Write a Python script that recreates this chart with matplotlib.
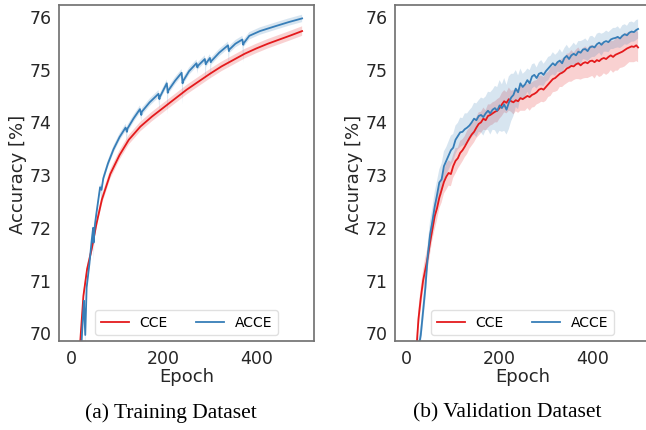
import numpy as np
import matplotlib
matplotlib.use("Agg")
import matplotlib.pyplot as plt

RED = "#e41a1c"
BLUE = "#377eb8"

# ---- training curves -------------------------------------------------------
train_cce_epochs = [0, 10, 20, 27, 35, 45, 55, 67, 85, 105, 125, 150, 175, 200,
                    225, 250, 275, 300, 325, 350, 375, 400, 425, 450, 475, 499]
train_cce = [62.0, 67.5, 69.8, 70.69, 71.2, 71.58, 72.05, 72.52, 73.0, 73.36,
             73.65, 73.9, 74.09, 74.26, 74.43, 74.6, 74.75, 74.9, 75.04, 75.16,
             75.28, 75.38, 75.47, 75.55, 75.63, 75.71]
train_cce_sd = 0.09

train_acce_epochs = [0, 10, 20, 26, 28, 31, 34, 40, 45, 48,
                     49, 52, 55, 63, 66, 70, 80, 92, 105, 118,
                     121, 122, 135, 149, 152, 153, 170, 189, 191, 192,
                     207, 209, 210, 225, 239, 241, 242, 255, 271, 273,
                     274, 289, 291, 292, 300, 302, 303, 320, 339, 341,
                     342, 355, 370, 372, 373, 385, 408, 444, 470, 499]
train_acce = [61.0, 66.8, 69.3, 70.3, 70.6, 69.95, 70.85, 71.3, 71.75, 71.98,
              71.7, 72.05, 72.25, 72.75, 72.7, 72.92, 73.2, 73.47, 73.7, 73.88,
              73.8, 73.86, 74.05, 74.23, 74.12, 74.18, 74.36, 74.52, 74.42, 74.46,
              74.72, 74.54, 74.58, 74.77, 74.92, 74.72, 74.76, 74.95, 75.1, 75.02,
              75.05, 75.18, 75.08, 75.1, 75.2, 75.12, 75.14, 75.3, 75.44, 75.33,
              75.36, 75.47, 75.55, 75.45, 75.48, 75.62, 75.71, 75.81, 75.88, 75.95]
train_acce_sd = 0.07
# lower edge of the band at the epochs where one run dropped
train_acce_dips = {31: 69.7, 49: 71.35, 66: 72.5, 121: 73.57, 152: 74.0,
                   191: 74.2, 209: 74.13, 241: 74.32, 273: 74.9, 291: 74.77,
                   302: 74.8, 341: 75.02, 372: 75.11}

# ---- validation curves -----------------------------------------------------
val_epochs = list(range(0, 500, 5)) + [499]
val_cce = [61.8, 64.8, 67.0, 68.6, 69.6, 70.25, 70.65, 70.98, 71.2, 71.42,
           71.7, 71.95, 72.2, 72.35, 72.55, 72.7, 72.85, 72.95, 73.02, 73.0,
           73.15, 73.25, 73.3, 73.4, 73.45, 73.52, 73.6, 73.68, 73.75, 73.8,
           73.88, 73.95, 73.98, 74.05, 74.02, 74.1, 74.12, 74.15, 74.18, 74.2,
           74.25, 74.32, 74.38, 74.35, 74.42, 74.38, 74.36, 74.4, 74.38, 74.44,
           74.42, 74.45, 74.48, 74.46, 74.5, 74.52, 74.55, 74.6, 74.62, 74.6,
           74.65, 74.7, 74.75, 74.8, 74.82, 74.86, 74.9, 74.92, 74.95, 75.0,
           75.02, 75.05, 75.04, 75.08, 75.1, 75.06, 75.1, 75.12, 75.1, 75.14,
           75.15, 75.12, 75.16, 75.14, 75.18, 75.2, 75.18, 75.22, 75.25, 75.22,
           75.26, 75.28, 75.3, 75.32, 75.35, 75.38, 75.4, 75.42, 75.41, 75.44,
           75.4]
val_cce_sd = [0.3, 0.3, 0.28, 0.25, 0.22, 0.2, 0.22, 0.2, 0.23, 0.2,
              0.22, 0.2, 0.25, 0.22, 0.2, 0.24, 0.22, 0.25, 0.24, 0.23,
              0.22, 0.24, 0.2, 0.23, 0.21, 0.2, 0.22, 0.2, 0.21, 0.2,
              0.2, 0.22, 0.2, 0.21, 0.19, 0.22, 0.2, 0.21, 0.2, 0.22,
              0.2, 0.22, 0.21, 0.2, 0.22, 0.2, 0.23, 0.21, 0.22, 0.24,
              0.22, 0.25, 0.23, 0.26, 0.24, 0.25, 0.23, 0.26, 0.25, 0.24,
              0.26, 0.24, 0.27, 0.25, 0.26, 0.28, 0.25, 0.27, 0.26, 0.28,
              0.27, 0.3, 0.26, 0.28, 0.3, 0.27, 0.29, 0.3, 0.28, 0.3,
              0.29, 0.31, 0.28, 0.3, 0.32, 0.29, 0.3, 0.31, 0.28, 0.3,
              0.3, 0.32, 0.29, 0.3, 0.31, 0.3, 0.28, 0.3, 0.29, 0.3,
              0.28]
val_acce = [61.5, 64.5, 66.8, 68.3, 69.2, 69.7, 69.95, 70.4, 70.85, 71.45,
            71.85, 72.1, 72.38, 72.6, 72.84, 72.9, 73.15, 73.25, 73.35, 73.45,
            73.5, 73.65, 73.72, 73.79, 73.8, 73.85, 73.88, 73.92, 73.98, 74.05,
            74.02, 74.1, 74.12, 74.08, 74.15, 74.2, 74.15, 74.22, 74.25, 74.2,
            74.3, 74.25, 74.32, 74.22, 74.35, 74.45, 74.5, 74.62, 74.55, 74.72,
            74.65, 74.7, 74.78, 74.72, 74.85, 74.88, 74.82, 74.9, 74.92, 74.88,
            74.95, 75.0, 75.05, 75.1, 75.06, 75.12, 75.15, 75.1, 75.2, 75.24,
            75.18, 75.25, 75.28, 75.25, 75.32, 75.3, 75.36, 75.37, 75.33, 75.4,
            75.42, 75.4, 75.46, 75.49, 75.45, 75.5, 75.52, 75.5, 75.55, 75.57,
            75.58, 75.6, 75.57, 75.62, 75.65, 75.63, 75.68, 75.7, 75.69, 75.73,
            75.75]
val_acce_sd = [0.3, 0.3, 0.3, 0.25, 0.22, 0.2, 0.2, 0.22, 0.25, 0.24,
               0.26, 0.25, 0.28, 0.27, 0.25, 0.3, 0.28, 0.26, 0.27, 0.28,
               0.26, 0.27, 0.25, 0.28, 0.26, 0.3, 0.27, 0.29, 0.28, 0.3,
               0.32, 0.3, 0.33, 0.35, 0.32, 0.36, 0.4, 0.38, 0.42, 0.45,
               0.48, 0.45, 0.5, 0.47, 0.5, 0.45, 0.4, 0.35, 0.32, 0.28,
               0.25, 0.24, 0.22, 0.25, 0.23, 0.22, 0.2, 0.22, 0.24, 0.21,
               0.2, 0.22, 0.19, 0.21, 0.2, 0.18, 0.22, 0.2, 0.19, 0.21,
               0.2, 0.18, 0.21, 0.19, 0.2, 0.22, 0.18, 0.2, 0.19, 0.21,
               0.2, 0.18, 0.2, 0.19, 0.21, 0.18, 0.2, 0.19, 0.18, 0.2,
               0.19, 0.2, 0.18, 0.2, 0.19, 0.18, 0.2, 0.19, 0.18, 0.19,
               0.18]

plt.rcParams.update({
    "font.family": "DejaVu Sans",
    "axes.edgecolor": "0.45",
    "axes.linewidth": 1.25,
    "xtick.color": "0.15",
    "ytick.color": "0.15",
    "axes.labelcolor": "0.15",
})


def band(ax, x, y, lo, hi, color, label):
    x = np.asarray(x)
    y = np.asarray(y)
    ax.fill_between(x, y - lo, y + hi, color=color, alpha=0.2, lw=0)
    ax.plot(x, y, color=color, lw=1.3, label=label)


def style(ax):
    ax.set_xlim(-25, 524)
    ax.set_ylim(69.83, 76.21)
    ax.set_xticks([0, 200, 400])
    ax.set_yticks([70, 71, 72, 73, 74, 75, 76])
    ax.tick_params(labelsize=12.5, length=0, pad=5.5)
    ax.set_xlabel("Epoch", fontsize=13, labelpad=0)
    ax.set_ylabel("Accuracy [%]", fontsize=13, labelpad=1.5)
    leg = ax.legend(loc="lower center", ncol=2, fontsize=10, frameon=True,
                    borderaxespad=0.45)
    leg.get_frame().set_edgecolor("0.85")


fig = plt.figure(figsize=(6.46, 4.31), dpi=100)
ax1 = fig.add_axes([0.0918, 0.2058, 0.3938, 0.781])
ax2 = fig.add_axes([0.6119, 0.2058, 0.3938, 0.781])

# training
band(ax1, train_cce_epochs, train_cce, train_cce_sd, train_cce_sd, RED, "CCE")
lo = np.array([train_acce_sd if e not in train_acce_dips
               else v - train_acce_dips[e]
               for e, v in zip(train_acce_epochs, train_acce)])
band(ax1, train_acce_epochs, train_acce, lo, train_acce_sd, BLUE, "ACCE")
style(ax1)

# validation
band(ax2, val_epochs, val_cce, np.array(val_cce_sd), np.array(val_cce_sd), RED, "CCE")
band(ax2, val_epochs, val_acce, np.array(val_acce_sd), np.array(val_acce_sd), BLUE, "ACCE")
style(ax2)

fig.text(0.264, 0.042, "(a) Training Dataset", ha="center", va="center",
         family="Liberation Serif", fontsize=15.5)
fig.text(0.785, 0.042, "(b) Validation Dataset", ha="center", va="center",
         family="Liberation Serif", fontsize=15.5)

fig.savefig("out.png", dpi=100)
